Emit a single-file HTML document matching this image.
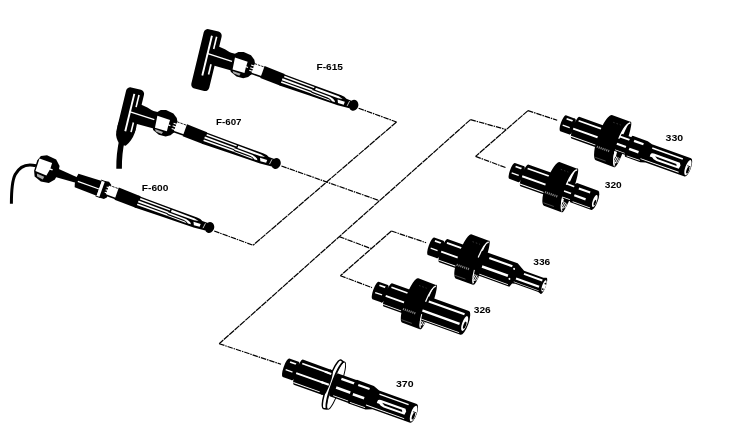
<!DOCTYPE html>
<html lang="en"><head><meta charset="utf-8"><title>Probe and fitting diagram</title>
<style>html,body{margin:0;padding:0;background:#fff;}body{width:734px;height:441px;overflow:hidden;}svg{display:block;filter:blur(0.4px);}</style>
</head><body><svg width="734" height="441" viewBox="0 0 734 441"><line x1="358.6" y1="108.2" x2="396.5" y2="122.0" stroke="#000" stroke-width="1.2" stroke-dasharray="5.5 0.9 1.5 0.9" stroke-linecap="butt"/><line x1="214.2" y1="231.0" x2="253.1" y2="245.2" stroke="#000" stroke-width="1.2" stroke-dasharray="5.5 0.9 1.5 0.9" stroke-linecap="butt"/><line x1="281.4" y1="166.0" x2="379.2" y2="200.6" stroke="#000" stroke-width="1.2" stroke-dasharray="5.5 0.9 1.5 0.9" stroke-linecap="butt"/><line x1="470.5" y1="119.6" x2="506.0" y2="129.5" stroke="#000" stroke-width="1.2" stroke-dasharray="5.5 0.9 1.5 0.9" stroke-linecap="butt"/><line x1="528.0" y1="110.6" x2="557.2" y2="120.2" stroke="#000" stroke-width="1.2" stroke-dasharray="5.5 0.9 1.5 0.9" stroke-linecap="butt"/><line x1="475.6" y1="156.4" x2="505.6" y2="167.6" stroke="#000" stroke-width="1.2" stroke-dasharray="5.5 0.9 1.5 0.9" stroke-linecap="butt"/><line x1="339.2" y1="236.6" x2="370.6" y2="248.4" stroke="#000" stroke-width="1.2" stroke-dasharray="5.5 0.9 1.5 0.9" stroke-linecap="butt"/><line x1="391.4" y1="231.0" x2="426.1" y2="242.7" stroke="#000" stroke-width="1.2" stroke-dasharray="5.5 0.9 1.5 0.9" stroke-linecap="butt"/><line x1="340.4" y1="275.7" x2="372.0" y2="287.6" stroke="#000" stroke-width="1.2" stroke-dasharray="5.5 0.9 1.5 0.9" stroke-linecap="butt"/><line x1="219.2" y1="343.7" x2="281.0" y2="364.3" stroke="#000" stroke-width="1.2" stroke-dasharray="5.5 0.9 1.5 0.9" stroke-linecap="butt"/><line x1="396.5" y1="122.0" x2="253.1" y2="245.2" stroke="#000" stroke-width="1.2" stroke-dasharray="6.5 0.7" stroke-linecap="butt"/><line x1="470.5" y1="119.6" x2="219.2" y2="343.7" stroke="#000" stroke-width="1.2" stroke-dasharray="6.5 0.7" stroke-linecap="butt"/><line x1="528.0" y1="110.6" x2="475.6" y2="156.4" stroke="#000" stroke-width="1.2" stroke-dasharray="6.5 0.7" stroke-linecap="butt"/><line x1="391.4" y1="231.0" x2="340.4" y2="275.7" stroke="#000" stroke-width="1.2" stroke-dasharray="6.5 0.7" stroke-linecap="butt"/><g transform="translate(353.60,105.30) rotate(19.7)"><g transform="translate(-153.7,7.5) rotate(-6.1)"><rect x="-9.2" y="-31" width="18.4" height="61" rx="4.2" ry="4.2" fill="#000"/><rect x="-1.4" y="-25.5" width="1.9" height="41" fill="#fff"/><rect x="3.6" y="-25.5" width="1.6" height="12.5" fill="#fff"/><rect x="4.6" y="2.5" width="1.6" height="10.5" fill="#fff"/></g><path d="M-150,-10.2 L-140,-9.4 Q-135,-8.2 -133,-8.2 L-127,-8.8 L-127,8.4 L-147,9.8Z" fill="#000"/><path d="M-155.4,-0.2 L-127,-1.1 L-127,0.2 L-155.4,1.2Z" fill="#fff"/><path d="M-129,-8.5 L-126.5,-11.4 L-121.5,-13.2 L-113.5,-12.6 L-108.8,-9.4 L-106.6,-5.6 L-106.6,5.2 L-108.8,9 L-113,11.8 L-120,12.3 L-127,9.8 L-129.5,5Z" fill="#000"/><path d="M-127.8,-5.0 L-114.4,-5.2 L-114.2,-0.6 L-112.2,-0.6 L-112.2,0.6 L-114.2,0.6 L-113.6,6.4 L-126,7.2Z" fill="#fff"/><path d="M-125.5,8.4 L-117,8.4 L-117.6,10.8 L-124,10.4Z" fill="#aaa"/><rect x="-110.00" y="-3.95" width="3.8" height="1.1" fill="#fff"/><rect x="-110.00" y="-1.15" width="3.8" height="1.1" fill="#fff"/><rect x="-110.00" y="1.65" width="3.8" height="1.1" fill="#fff"/><path d="M-107,-6 L-96.5,-6 L-96.5,4 L-107,4Z" fill="#fff"/><line x1="-107" y1="-5.9" x2="-96" y2="-5.9" stroke="#000" stroke-width="0.8" stroke-dasharray="2.4 1"/><line x1="-109" y1="4.4" x2="-96" y2="4.4" stroke="#000" stroke-width="1.6"/><path d="M-97,-7 L-75.5,-6.2 L-75.5,6.3 L-97,5.8Z" fill="#000"/><path d="M-76.5,-5.9 L-45,-5.5 L-15,-5.2 Q-11,-5 -9,-3.8 L-3,-3.6 L-3,4.2 L-8,4.7 L-15,5.3 L-45,5.7 L-76.5,6.3Z" fill="#000"/><path d="M-75,-4.5 L-43,-4.1 L-43,-2.6 L-75,-2.9Z" fill="#fff"/><path d="M-76,-1.4 L-44,-1.0 L-44,0.5 L-76,0.5Z" fill="#fff"/><path d="M-76,1.7 L-44,1.8 L-44,3.2 L-76,3.3Z" fill="#fff"/><path d="M-41.5,-3.9 L-17,-3.6 L-12.5,-2.3 L-17,-1.5 L-41.5,-1.7Z" fill="#fff"/><path d="M-44,-0.4 L-25,-0.2 Q-21,0.3 -19.4,2.0 L-18.6,3.3 L-21.6,3.5 Q-24,1.7 -27,1.5 L-44,1.2Z" fill="#fff"/><path d="M-44,2.4 L-25,2.7 L-23,3.7 L-44,3.4Z" fill="#fff"/><path d="M-17,0.0 L-9.5,-0.4 L-9.5,2.7 L-15.5,3.1Z" fill="#fff"/><ellipse cx="0" cy="0" rx="4.7" ry="5.5" fill="#000"/><line x1="-5.2" y1="-2.6" x2="-5.9" y2="2.8" stroke="#fff" stroke-width="0.7"/></g><g transform="translate(276.00,163.50) rotate(19.7)"><g transform="translate(-153.7,7.5) rotate(-6.1)"><rect x="-9.2" y="-31" width="18.4" height="45" rx="4.2" ry="4.2" fill="#000"/><path d="M-9.2,6 L-9.2,15 Q-8.7,22 -2.6,27 L3.4,27 Q8.2,21 9.2,12 L9.2,6Z" fill="#000"/><rect x="-1.4" y="-25.5" width="1.9" height="38.5" fill="#fff"/><rect x="3.6" y="-25.5" width="1.6" height="12.5" fill="#fff"/><rect x="4.6" y="2.5" width="1.6" height="10" fill="#fff"/></g><path d="M-150,-10.2 L-140,-9.4 Q-135,-8.2 -133,-8.2 L-127,-8.8 L-127,8.4 L-147,9.8Z" fill="#000"/><path d="M-155.4,-0.2 L-127,-1.1 L-127,0.2 L-155.4,1.2Z" fill="#fff"/><path d="M-129,-8.5 L-126.5,-11.4 L-121.5,-13.2 L-113.5,-12.6 L-108.8,-9.4 L-106.6,-5.6 L-106.6,5.2 L-108.8,9 L-113,11.8 L-120,12.3 L-127,9.8 L-129.5,5Z" fill="#000"/><path d="M-127.8,-5.0 L-114.4,-5.2 L-114.2,-0.6 L-112.2,-0.6 L-112.2,0.6 L-114.2,0.6 L-113.6,6.4 L-126,7.2Z" fill="#fff"/><path d="M-125.5,8.4 L-117,8.4 L-117.6,10.8 L-124,10.4Z" fill="#aaa"/><rect x="-110.00" y="-3.95" width="3.8" height="1.1" fill="#fff"/><rect x="-110.00" y="-1.15" width="3.8" height="1.1" fill="#fff"/><rect x="-110.00" y="1.65" width="3.8" height="1.1" fill="#fff"/><path d="M-107,-6 L-96.5,-6 L-96.5,4 L-107,4Z" fill="#fff"/><line x1="-107" y1="-5.9" x2="-96" y2="-5.9" stroke="#000" stroke-width="0.8" stroke-dasharray="2.4 1"/><line x1="-109" y1="4.4" x2="-96" y2="4.4" stroke="#000" stroke-width="1.6"/><path d="M-97,-7 L-75.5,-6.2 L-75.5,6.3 L-97,5.8Z" fill="#000"/><path d="M-76.5,-5.9 L-45,-5.5 L-15,-5.2 Q-11,-5 -9,-3.8 L-3,-3.6 L-3,4.2 L-8,4.7 L-15,5.3 L-45,5.7 L-76.5,6.3Z" fill="#000"/><path d="M-75,-4.5 L-43,-4.1 L-43,-2.6 L-75,-2.9Z" fill="#fff"/><path d="M-76,-1.4 L-44,-1.0 L-44,0.5 L-76,0.5Z" fill="#fff"/><path d="M-76,1.7 L-44,1.8 L-44,3.2 L-76,3.3Z" fill="#fff"/><path d="M-41.5,-3.9 L-17,-3.6 L-12.5,-2.3 L-17,-1.5 L-41.5,-1.7Z" fill="#fff"/><path d="M-44,-0.4 L-25,-0.2 Q-21,0.3 -19.4,2.0 L-18.6,3.3 L-21.6,3.5 Q-24,1.7 -27,1.5 L-44,1.2Z" fill="#fff"/><path d="M-44,2.4 L-25,2.7 L-23,3.7 L-44,3.4Z" fill="#fff"/><path d="M-17,0.0 L-9.5,-0.4 L-9.5,2.7 L-15.5,3.1Z" fill="#fff"/><ellipse cx="0" cy="0" rx="4.7" ry="5.5" fill="#000"/><line x1="-5.2" y1="-2.6" x2="-5.9" y2="2.8" stroke="#fff" stroke-width="0.7"/></g><path d="M122.2,139 C120.2,148 118.9,159 119.1,168.8" fill="none" stroke="#000" stroke-width="5.6"/><g transform="translate(209.50,227.50) rotate(19.7)"><path d="M-164,-4.4 L-141,-2.6 L-141,3.0 L-164,4.6Z" fill="#000"/><path d="M-141.5,-6.4 Q-143.2,0.5 -140.5,7.6 L-117,8.2 L-117,-7.4Z" fill="#000"/><rect x="-139.50" y="0.40" width="22.50" height="1.20" fill="#fff"/><rect x="-117" y="-8.0" width="3" height="16.6" fill="#fff"/><line x1="-118" y1="-8.1" x2="-113" y2="-8.1" stroke="#000" stroke-width="0.9"/><line x1="-118" y1="8.7" x2="-113" y2="8.7" stroke="#000" stroke-width="0.9"/><path d="M-114,-8.6 L-110,-9.2 L-106.8,-7 L-106.8,6.4 L-109,8.8 L-114,9Z" fill="#000"/><rect x="-110.50" y="-3.95" width="3.8" height="1.1" fill="#fff"/><rect x="-110.50" y="-1.15" width="3.8" height="1.1" fill="#fff"/><rect x="-110.50" y="1.65" width="3.8" height="1.1" fill="#fff"/><path d="M-108.8,-6 L-98.3,-6 L-98.3,4 L-108.8,4Z" fill="#fff"/><line x1="-108.8" y1="-5.9" x2="-97.8" y2="-5.9" stroke="#000" stroke-width="0.8" stroke-dasharray="2.4 1"/><line x1="-110.8" y1="4.4" x2="-97.8" y2="4.4" stroke="#000" stroke-width="1.6"/><path d="M-98.8,-7 L-75.5,-6.2 L-75.5,6.3 L-98.8,5.8Z" fill="#000"/><path d="M-76.5,-5.9 L-45,-5.5 L-15,-5.2 Q-11,-5 -9,-3.8 L-3,-3.6 L-3,4.2 L-8,4.7 L-15,5.3 L-45,5.7 L-76.5,6.3Z" fill="#000"/><path d="M-75,-4.5 L-43,-4.1 L-43,-2.6 L-75,-2.9Z" fill="#fff"/><path d="M-76,-1.4 L-44,-1.0 L-44,0.5 L-76,0.5Z" fill="#fff"/><path d="M-76,1.7 L-44,1.8 L-44,3.2 L-76,3.3Z" fill="#fff"/><path d="M-41.5,-3.9 L-17,-3.6 L-12.5,-2.3 L-17,-1.5 L-41.5,-1.7Z" fill="#fff"/><path d="M-44,-0.4 L-25,-0.2 Q-21,0.3 -19.4,2.0 L-18.6,3.3 L-21.6,3.5 Q-24,1.7 -27,1.5 L-44,1.2Z" fill="#fff"/><path d="M-44,2.4 L-25,2.7 L-23,3.7 L-44,3.4Z" fill="#fff"/><path d="M-17,0.0 L-9.5,-0.4 L-9.5,2.7 L-15.5,3.1Z" fill="#fff"/><ellipse cx="0" cy="0" rx="4.7" ry="5.5" fill="#000"/><line x1="-5.2" y1="-2.6" x2="-5.9" y2="2.8" stroke="#fff" stroke-width="0.7"/><path d="M-76,-6.1 L-77.6,-6.1 L-77.6,6.2 L-76,6.2Z" fill="#000"/><path d="M-184.8,-5 L-182.8,-10.4 L-177.3,-13.2 L-167.3,-12.4 L-161.9,-7.4 L-160.70000000000002,0 L-161.70000000000002,7 L-166.3,12.2 L-174.3,13.6 L-181.8,11 L-184.3,5.6Z" fill="#000"/><path d="M-183.3,-7.6 L-169.9,-7.6 L-169.70000000000002,-2.0 L-167.10000000000002,-2.0 L-167.10000000000002,-0.6 L-169.9,-0.6 L-171.10000000000002,6.0 L-182.9,5.6Z" fill="#fff"/><path d="M-180.70000000000002,7.4 L-172.70000000000002,8.0 L-173.10000000000002,11.0 L-179.5,10.0Z" fill="#aaa"/></g><path d="M36,165.8 C27,163.4 19.5,166.6 15.2,174.5 C11.8,181 11.4,190 11.4,203.8" fill="none" stroke="#000" stroke-width="3"/><g transform="translate(561.00,122.50) rotate(19.7)"><path d="M2.20,-8.40 A2.18,8.40 0 0 0 2.20,8.40 L12.00,8.40 A2.18,8.40 0 0 0 12.00,-8.40 Z" fill="#000" /><rect x="4.00" y="-6.25" width="8.50" height="1.70" fill="#fff"/><rect x="2.50" y="1.35" width="8.00" height="1.30" fill="#fff"/><ellipse cx="11.6" cy="0" rx="1.68" ry="8.40" fill="#000"/><path d="M15.20,-11.50 A2.30,11.50 0 0 0 15.20,11.50 L44.00,11.50 A2.30,11.50 0 0 0 44.00,-11.50 Z" fill="#000" /><rect x="16.00" y="-8.45" width="26.50" height="1.70" fill="#fff"/><rect x="13.50" y="0.65" width="28.00" height="1.90" fill="#fff"/><rect x="14.00" y="9.15" width="27.00" height="0.90" fill="#fff"/><ellipse cx="65.50" cy="-0.20" rx="3.0" ry="24.10" fill="#000"/><path d="M60.80,12.90 L67.40,13.90 L67.20,18.50 L64.30,20.70 Z" fill="#fff"/><line x1="63.20" y1="13.70" x2="62.40" y2="19.10" stroke="#000" stroke-width="0.8"/><line x1="64.90" y1="13.70" x2="64.10" y2="19.10" stroke="#000" stroke-width="0.8"/><line x1="66.60" y1="13.70" x2="65.80" y2="19.10" stroke="#000" stroke-width="0.8"/><g transform="translate(0,-0.50)"><rect x="54.00" y="-9.40" width="19.00" height="18.80" fill="#000"/><rect x="59.00" y="-7.20" width="11.40" height="2.00" fill="#fff"/><rect x="56.00" y="0.50" width="13.40" height="2.20" fill="#fff"/><rect x="56.00" y="7.65" width="14.40" height="0.70" fill="#fff"/><path d="M72.00,-11.20 A1.79,11.20 0 0 0 72.00,11.20 L88.00,11.20 L93.00,9.60 L134.50,9.60 A3.17,9.60 0 0 0 134.50,-9.60 L93.00,-9.60 L88.00,-11.20 Z" fill="#000" /><rect x="75.00" y="-7.90" width="10.00" height="2.20" fill="#fff"/><rect x="73.00" y="1.15" width="10.00" height="2.50" fill="#fff"/><rect x="73.00" y="9.30" width="14.00" height="0.80" fill="#fff"/><rect x="94.50" y="-6.95" width="32.50" height="1.50" fill="#fff"/><path d="M95.00,0.6 Q95.00,-1.6 98.00,-1.6 L125.50,-1.6 L127.00,0.6 L126.50,4.4 L103.00,4.4 Q99.00,4.2 97.50,2.6 L95.00,2.6Z" fill="#fff"/><path d="M100.00,0.6 L122.50,0.6 L123.50,2.4 L103.00,2.4Z" fill="#000"/><rect x="87.00" y="7.25" width="40.50" height="0.90" fill="#fff"/><ellipse cx="134.70" cy="0.2" rx="2.59" ry="8.06" fill="#fff"/><ellipse cx="135.40" cy="2.6" rx="1.25" ry="3.46" fill="#000"/><line x1="133.50" y1="-1.4" x2="136.90" y2="-1.4" stroke="#000" stroke-width="0.8"/></g><path d="M46.10,-24.30 A6.40,24.10 0 0 0 45.50,23.90 L66.40,24.20 A6.40,24.10 0 0 1 65.80,-24.00 Z" fill="#000" /><path d="M65.50,-22.90 A6.40,24.10 0 0 0 59.85,-4.20" fill="none" stroke="#fff" stroke-width="1.25"/><path d="M60.40,8.80 A6.40,24.10 0 0 0 65.20,22.50" fill="none" stroke="#fff" stroke-width="1.0"/><line x1="41.90" y1="10.70" x2="55.60" y2="10.70" stroke="#8a8a8a" stroke-width="2.2" stroke-dasharray="1.1 0.9"/><line x1="44.10" y1="21.30" x2="55.10" y2="21.30" stroke="#555" stroke-width="0.8"/><line x1="49.10" y1="-17.80" x2="57.10" y2="-17.80" stroke="#444" stroke-width="0.7" stroke-dasharray="1.5 2"/></g><g transform="translate(510.00,170.20) rotate(19.7)"><path d="M2.20,-8.40 A2.18,8.40 0 0 0 2.20,8.40 L12.00,8.40 A2.18,8.40 0 0 0 12.00,-8.40 Z" fill="#000" /><rect x="4.00" y="-6.25" width="8.50" height="1.70" fill="#fff"/><rect x="2.50" y="1.35" width="8.00" height="1.30" fill="#fff"/><ellipse cx="11.6" cy="0" rx="1.68" ry="8.40" fill="#000"/><path d="M15.20,-11.50 A2.30,11.50 0 0 0 15.20,11.50 L43.00,11.50 A2.30,11.50 0 0 0 43.00,-11.50 Z" fill="#000" /><rect x="16.00" y="-8.45" width="25.50" height="1.70" fill="#fff"/><rect x="13.50" y="0.65" width="27.00" height="1.90" fill="#fff"/><rect x="14.00" y="9.15" width="26.00" height="0.90" fill="#fff"/><ellipse cx="63.20" cy="-1.20" rx="3.0" ry="23.20" fill="#000"/><path d="M58.50,11.00 L65.10,12.00 L64.90,16.60 L62.00,18.80 Z" fill="#fff"/><line x1="60.90" y1="11.80" x2="60.10" y2="17.20" stroke="#000" stroke-width="0.8"/><line x1="62.60" y1="11.80" x2="61.80" y2="17.20" stroke="#000" stroke-width="0.8"/><line x1="64.30" y1="11.80" x2="63.50" y2="17.20" stroke="#000" stroke-width="0.8"/><g transform="translate(0,-0.25)"><rect x="53.00" y="-9.20" width="15.50" height="18.40" fill="#000"/><rect x="58.00" y="-6.80" width="8.30" height="1.60" fill="#fff"/><rect x="55.00" y="0.70" width="10.30" height="1.80" fill="#fff"/><rect x="55.00" y="7.45" width="11.30" height="0.70" fill="#fff"/><path d="M67.50,-10.20 A1.63,10.20 0 0 0 67.50,10.20 L90.00,10.20 A3.06,10.20 0 0 0 90.00,-10.20 Z" fill="#000" /><rect x="71.00" y="-6.80" width="12.00" height="2.00" fill="#fff"/><rect x="69.00" y="1.10" width="12.00" height="2.20" fill="#fff"/><rect x="69.50" y="8.35" width="18.50" height="0.70" fill="#fff"/><ellipse cx="90.20" cy="0.6" rx="2.04" ry="6.32" fill="#fff"/><ellipse cx="90.80" cy="2.2" rx="1.02" ry="3.06" fill="#000"/></g><path d="M44.50,-24.40 A6.00,23.20 0 0 0 43.90,22.00 L64.10,22.30 A6.00,23.20 0 0 1 63.50,-24.10 Z" fill="#000" /><path d="M63.20,-23.00 A6.00,23.20 0 0 0 57.95,-5.20" fill="none" stroke="#fff" stroke-width="1.25"/><path d="M58.50,7.80 A6.00,23.20 0 0 0 62.90,20.60" fill="none" stroke="#fff" stroke-width="1.0"/><line x1="40.30" y1="8.80" x2="54.00" y2="8.80" stroke="#8a8a8a" stroke-width="2.2" stroke-dasharray="1.1 0.9"/><line x1="42.50" y1="19.40" x2="53.50" y2="19.40" stroke="#555" stroke-width="0.8"/><line x1="47.50" y1="-17.90" x2="55.50" y2="-17.90" stroke="#444" stroke-width="0.7" stroke-dasharray="1.5 2"/></g><g transform="translate(429.00,245.50) rotate(19.7)"><path d="M2.20,-9.30 A2.42,9.30 0 0 0 2.20,9.30 L12.00,9.30 A2.42,9.30 0 0 0 12.00,-9.30 Z" fill="#000" /><rect x="4.00" y="-7.15" width="8.50" height="1.70" fill="#fff"/><rect x="2.50" y="1.35" width="8.00" height="1.30" fill="#fff"/><ellipse cx="11.6" cy="0" rx="1.86" ry="9.30" fill="#000"/><path d="M15.20,-12.40 A2.48,12.40 0 0 0 15.20,12.40 L36.00,12.40 A2.48,12.40 0 0 0 36.00,-12.40 Z" fill="#000" /><rect x="16.00" y="-9.35" width="18.50" height="1.70" fill="#fff"/><rect x="13.50" y="0.65" width="20.00" height="1.90" fill="#fff"/><rect x="14.00" y="10.05" width="19.00" height="0.90" fill="#fff"/><ellipse cx="55.10" cy="-1.40" rx="3.0" ry="23.40" fill="#000"/><path d="M50.40,11.00 L57.00,12.00 L56.80,16.60 L53.90,18.80 Z" fill="#fff"/><line x1="52.80" y1="11.80" x2="52.00" y2="17.20" stroke="#000" stroke-width="0.8"/><line x1="54.50" y1="11.80" x2="53.70" y2="17.20" stroke="#000" stroke-width="0.8"/><line x1="56.20" y1="11.80" x2="55.40" y2="17.20" stroke="#000" stroke-width="0.8"/><g transform="translate(0,-0.7)"><path d="M47.00,-12.40 L47.00,12.40 L89.50,12.40 L91.00,8.40 L94.00,7.60 L118.50,7.60 L121.50,8.60 A2.28,8.60 0 0 0 121.50,-8.60 L118.50,-7.60 L98.00,-7.60 L89.50,-12.40 Z" fill="#000" /><rect x="61.00" y="-8.90" width="24.50" height="2.20" fill="#fff"/><rect x="57.00" y="1.35" width="27.50" height="2.50" fill="#fff"/><rect x="57.00" y="10.40" width="30.50" height="0.80" fill="#fff"/><circle cx="88.00" cy="-6" r="1" fill="#fff"/><circle cx="87.00" cy="5" r="1" fill="#fff"/><rect x="99.00" y="-5.60" width="19.50" height="2.00" fill="#fff"/><rect x="93.00" y="1.30" width="24.50" height="2.20" fill="#fff"/><rect x="92.00" y="5.95" width="26.50" height="0.70" fill="#fff"/><ellipse cx="121.90" cy="0" rx="1.82" ry="5.93" fill="#fff"/><circle cx="122.40" cy="-2.6" r="0.9" fill="#000"/><circle cx="121.80" cy="3.4" r="0.9" fill="#000"/></g><path d="M36.70,-24.80 A5.50,23.40 0 0 0 36.10,22.00 L56.00,22.30 A5.50,23.40 0 0 1 55.40,-24.50 Z" fill="#000" /><path d="M55.10,-23.40 A5.50,23.40 0 0 0 50.35,-5.40" fill="none" stroke="#fff" stroke-width="1.25"/><path d="M50.90,7.60 A5.50,23.40 0 0 0 54.80,20.60" fill="none" stroke="#fff" stroke-width="1.0"/><line x1="32.50" y1="8.80" x2="46.20" y2="8.80" stroke="#8a8a8a" stroke-width="2.2" stroke-dasharray="1.1 0.9"/><line x1="34.70" y1="19.40" x2="45.70" y2="19.40" stroke="#555" stroke-width="0.8"/><line x1="39.70" y1="-18.30" x2="47.70" y2="-18.30" stroke="#444" stroke-width="0.7" stroke-dasharray="1.5 2"/></g><g transform="translate(373.50,289.80) rotate(19.7)"><path d="M2.20,-9.30 A2.42,9.30 0 0 0 2.20,9.30 L12.00,9.30 A2.42,9.30 0 0 0 12.00,-9.30 Z" fill="#000" /><rect x="4.00" y="-7.15" width="8.50" height="1.70" fill="#fff"/><rect x="2.50" y="1.35" width="8.00" height="1.30" fill="#fff"/><ellipse cx="11.6" cy="0" rx="1.86" ry="9.30" fill="#000"/><path d="M15.20,-12.40 A2.48,12.40 0 0 0 15.20,12.40 L36.00,12.40 A2.48,12.40 0 0 0 36.00,-12.40 Z" fill="#000" /><rect x="16.00" y="-9.35" width="18.50" height="1.70" fill="#fff"/><rect x="13.50" y="0.65" width="20.00" height="1.90" fill="#fff"/><rect x="14.00" y="10.05" width="19.00" height="0.90" fill="#fff"/><ellipse cx="57.50" cy="-2.30" rx="3.0" ry="23.60" fill="#000"/><path d="M52.80,10.30 L59.40,11.30 L59.20,15.90 L56.30,18.10 Z" fill="#fff"/><line x1="55.20" y1="11.10" x2="54.40" y2="16.50" stroke="#000" stroke-width="0.8"/><line x1="56.90" y1="11.10" x2="56.10" y2="16.50" stroke="#000" stroke-width="0.8"/><line x1="58.60" y1="11.10" x2="57.80" y2="16.50" stroke="#000" stroke-width="0.8"/><g transform="translate(0,0.40)"><path d="M49.00,-12.60 L49.00,12.60 L97.00,12.60 A3.78,12.60 0 0 0 97.00,-12.60 Z" fill="#000" /><rect x="56.00" y="-9.10" width="38.00" height="2.20" fill="#fff"/><rect x="52.00" y="1.35" width="40.50" height="2.50" fill="#fff"/><rect x="52.00" y="10.60" width="43.00" height="0.80" fill="#fff"/><ellipse cx="97.20" cy="0.6" rx="2.52" ry="7.81" fill="#fff"/><ellipse cx="97.80" cy="2.2" rx="1.26" ry="3.78" fill="#000"/></g><path d="M38.40,-25.90 A5.20,23.60 0 0 0 37.80,21.30 L58.40,21.60 A5.20,23.60 0 0 1 57.80,-25.60 Z" fill="#000" /><path d="M57.50,-24.50 A5.20,23.60 0 0 0 53.05,-6.30" fill="none" stroke="#fff" stroke-width="1.25"/><path d="M53.60,6.70 A5.20,23.60 0 0 0 57.20,19.90" fill="none" stroke="#fff" stroke-width="1.0"/><line x1="34.20" y1="8.10" x2="47.90" y2="8.10" stroke="#8a8a8a" stroke-width="2.2" stroke-dasharray="1.1 0.9"/><line x1="36.40" y1="18.70" x2="47.40" y2="18.70" stroke="#555" stroke-width="0.8"/><line x1="41.40" y1="-19.40" x2="49.40" y2="-19.40" stroke="#444" stroke-width="0.7" stroke-dasharray="1.5 2"/></g><g transform="translate(284.00,367.00) rotate(19.7)"><path d="M2.20,-9.80 A2.55,9.80 0 0 0 2.20,9.80 L12.00,9.80 A2.55,9.80 0 0 0 12.00,-9.80 Z" fill="#000" /><rect x="4.00" y="-7.65" width="8.50" height="1.70" fill="#fff"/><rect x="2.50" y="1.35" width="8.00" height="1.30" fill="#fff"/><ellipse cx="11.6" cy="0" rx="1.96" ry="9.80" fill="#000"/><path d="M15.20,-13.30 A2.66,13.30 0 0 0 15.20,13.30 L45.00,13.30 A2.66,13.30 0 0 0 45.00,-13.30 Z" fill="#000" /><rect x="16.00" y="-10.25" width="27.50" height="1.70" fill="#fff"/><rect x="13.50" y="0.65" width="29.00" height="1.90" fill="#fff"/><rect x="14.00" y="10.95" width="28.00" height="0.90" fill="#fff"/><ellipse cx="55.4" cy="0" rx="4.4" ry="25.10" fill="#fff" stroke="#000" stroke-width="1.0"/><path d="M53.00,-12.20 A2.44,12.20 0 0 0 53.00,12.20 L74.00,12.20 A2.44,12.20 0 0 0 74.00,-12.20 Z" fill="#000" /><rect x="58.00" y="-9.35" width="15.00" height="2.30" fill="#fff"/><rect x="56.00" y="0.50" width="16.00" height="2.60" fill="#fff"/><rect x="56.00" y="9.95" width="17.00" height="0.90" fill="#fff"/><g transform="translate(0,0.00)"><path d="M73.00,-12.50 A2.00,12.50 0 0 0 73.00,12.50 L91.00,12.50 L97.50,10.00 L137.50,10.00 A3.30,10.00 0 0 0 137.50,-10.00 L97.50,-10.00 L91.00,-12.50 Z" fill="#000" /><rect x="76.00" y="-9.20" width="12.00" height="2.20" fill="#fff"/><rect x="74.00" y="1.15" width="12.00" height="2.50" fill="#fff"/><rect x="74.00" y="10.60" width="16.00" height="0.80" fill="#fff"/><rect x="99.00" y="-7.35" width="31.00" height="1.50" fill="#fff"/><path d="M99.50,0.6 Q99.50,-1.6 102.50,-1.6 L128.50,-1.6 L130.00,0.6 L129.50,4.4 L107.50,4.4 Q103.50,4.2 102.00,2.6 L99.50,2.6Z" fill="#fff"/><path d="M104.50,0.6 L125.50,0.6 L126.50,2.4 L107.50,2.4Z" fill="#000"/><rect x="90.00" y="7.65" width="40.50" height="0.90" fill="#fff"/><ellipse cx="137.70" cy="0.2" rx="2.70" ry="8.40" fill="#fff"/><ellipse cx="138.40" cy="2.6" rx="1.30" ry="3.60" fill="#000"/><line x1="136.50" y1="-1.4" x2="139.90" y2="-1.4" stroke="#000" stroke-width="0.8"/></g><path d="M51,-25.70 A4.6,25.70 0 0 0 51,25.70 L54.2,25.10 A4.6,25.70 0 0 1 54.2,-24.90 Z" fill="#fff" stroke="#000" stroke-width="1.5" stroke-linejoin="round"/><path d="M44,-13.3 L46.6,-13.3 A2.4,13.3 0 0 1 46.6,13.3 L44,13.3Z" fill="#000"/><rect x="40.00" y="-10.45" width="6.80" height="2.10" fill="#fff"/><rect x="40.00" y="0.45" width="8.20" height="2.30" fill="#fff"/></g><g font-family="'Liberation Sans', Arial, sans-serif" font-weight="bold" font-size="9.2px" fill="#000" style="filter:grayscale(1)"><text x="316.5" y="70.3" textLength="26.5" lengthAdjust="spacingAndGlyphs">F-615</text><text x="216" y="124.8" textLength="25.5" lengthAdjust="spacingAndGlyphs">F-607</text><text x="141.8" y="191.2" textLength="26.6" lengthAdjust="spacingAndGlyphs">F-600</text><text x="665.6" y="141.1" textLength="17.6" lengthAdjust="spacingAndGlyphs">330</text><text x="604.8" y="188.3" textLength="17" lengthAdjust="spacingAndGlyphs">320</text><text x="533.3" y="264.8" textLength="17" lengthAdjust="spacingAndGlyphs">336</text><text x="473.8" y="312.8" textLength="17" lengthAdjust="spacingAndGlyphs">326</text><text x="396" y="387.0" textLength="17.6" lengthAdjust="spacingAndGlyphs">370</text></g></svg></body></html>
